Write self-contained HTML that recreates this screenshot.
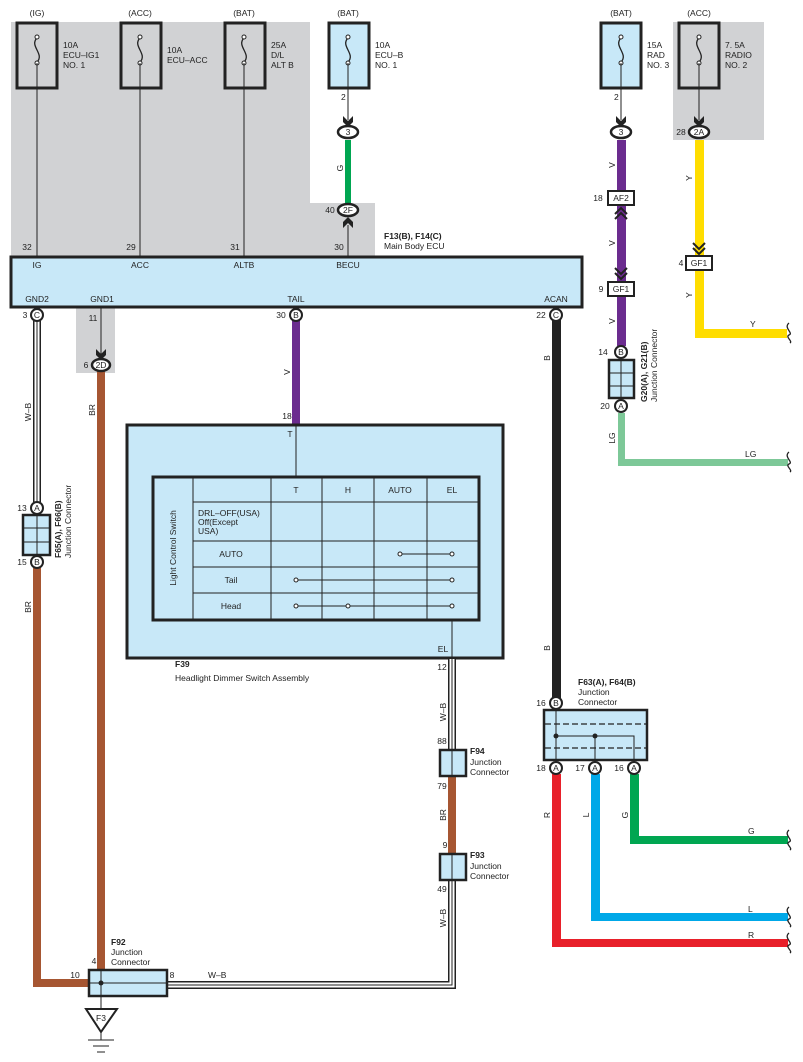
<!DOCTYPE html>
<html><head><meta charset="utf-8"><style>
body{margin:0;background:#fff}
svg{display:block;font-family:"Liberation Sans",sans-serif}
text{font-size:8.5px;fill:#222}
.b{font-weight:bold}
</style></head><body>
<svg width="803" height="1062" viewBox="0 0 803 1062" xmlns="http://www.w3.org/2000/svg">
<defs>
<g id="fuse"><path d="M0,-12 C-8,-4 8,4 0,12" fill="none" stroke="#222" stroke-width="1.3"/><circle cx="0" cy="-13" r="2" fill="#fff" stroke="#222"/><circle cx="0" cy="13" r="2" fill="#fff" stroke="#222"/></g>
<g id="adn"><path d="M-5,-6 L0,-1 L5,-6 L5,0 L0,5 L-5,0Z" fill="#222"/></g>
<g id="wave"><path d="M0,-10 C-6,-5 5,0 0,2 C-4,4 4,8 1,10" fill="none" stroke="#222" stroke-width="1.3"/></g>
</defs>
<!-- gray regions -->
<path d="M11,22 H310 V203 H375 V256 H11Z" fill="#d1d2d4"/>
<rect x="76" y="307" width="39" height="66" fill="#d1d2d4"/>
<rect x="673" y="22" width="91" height="118" fill="#d1d2d4"/>

<!-- top labels -->
<g text-anchor="middle"><text x="37" y="16">(IG)</text><text x="140" y="16">(ACC)</text><text x="244" y="16">(BAT)</text><text x="348" y="16">(BAT)</text><text x="621" y="16">(BAT)</text><text x="699" y="16">(ACC)</text></g>
<!-- fuse boxes -->
<g stroke="#222" stroke-width="3">
<rect x="17" y="23" width="40" height="65" fill="#d1d2d4"/><rect x="121" y="23" width="40" height="65" fill="#d1d2d4"/><rect x="225" y="23" width="40" height="65" fill="#d1d2d4"/><rect x="329" y="23" width="40" height="65" fill="#c8e8f8"/><rect x="601" y="23" width="40" height="65" fill="#c8e8f8"/><rect x="679" y="23" width="40" height="65" fill="#d1d2d4"/>
</g>
<use href="#fuse" x="37" y="50"/><use href="#fuse" x="140" y="50"/><use href="#fuse" x="244" y="50"/><use href="#fuse" x="348" y="50"/><use href="#fuse" x="621" y="50"/><use href="#fuse" x="699" y="50"/>
<text x="63" y="48">10A</text><text x="63" y="58">ECU–IG1</text><text x="63" y="68">NO. 1</text>
<text x="167" y="53">10A</text><text x="167" y="63">ECU–ACC</text>
<text x="271" y="48">25A</text><text x="271" y="58">D/L</text><text x="271" y="68">ALT B</text>
<text x="375" y="48">10A</text><text x="375" y="58">ECU–B</text><text x="375" y="68">NO. 1</text>
<text x="647" y="48">15A</text><text x="647" y="58">RAD</text><text x="647" y="68">NO. 3</text>
<text x="725" y="48">7. 5A</text><text x="725" y="58">RADIO</text><text x="725" y="68">NO. 2</text>
<!-- thin lines from fuses -->
<g stroke="#222" stroke-width="1"><line x1="37" y1="63" x2="37" y2="256"/><line x1="140" y1="63" x2="140" y2="256"/><line x1="244" y1="63" x2="244" y2="256"/><line x1="348" y1="63" x2="348" y2="120"/><line x1="348" y1="225" x2="348" y2="256"/><line x1="621" y1="63" x2="621" y2="120"/><line x1="699" y1="63" x2="699" y2="120"/><line x1="101" y1="307" x2="101" y2="355"/></g>
<!-- ECU-B green -->
<rect x="345" y="140" width="6" height="64" fill="#00a651"/>
<text transform="translate(343,168) rotate(-90)" text-anchor="middle">G</text>
<use href="#adn" x="348" y="122"/>
<ellipse cx="348" cy="132" rx="10" ry="6" fill="#fff" stroke="#222" stroke-width="2.5"/><text x="348" y="135" text-anchor="middle">3</text>
<ellipse cx="348" cy="210" rx="10" ry="6" fill="#fff" stroke="#222" stroke-width="2.5"/><text x="348" y="213" text-anchor="middle">2F</text>
<use href="#adn" x="348" y="222" transform="rotate(180 348 222)"/>
<text x="330" y="213" text-anchor="middle">40</text><text x="341" y="100">2</text>
<text x="384" y="239" class="b">F13(B), F14(C)</text><text x="384" y="249">Main Body ECU</text>
<!-- ECU -->
<rect x="11" y="257" width="571" height="50" fill="#c8e8f8" stroke="#222" stroke-width="3"/>
<g text-anchor="middle"><text x="27" y="250">32</text><text x="131" y="250">29</text><text x="235" y="250">31</text><text x="339" y="250">30</text>
<text x="37" y="268">IG</text><text x="140" y="268">ACC</text><text x="244" y="268">ALTB</text><text x="348" y="268">BECU</text>
<text x="37" y="302">GND2</text><text x="102" y="302">GND1</text><text x="296" y="302">TAIL</text><text x="556" y="302">ACAN</text></g>
<!-- right radio -->
<rect x="617" y="140" width="9" height="206" fill="#6b2c8f"/>
<use href="#adn" x="621" y="122"/><use href="#adn" x="699" y="122"/>
<ellipse cx="621" cy="132" rx="10" ry="6" fill="#fff" stroke="#222" stroke-width="2.5"/><text x="621" y="135" text-anchor="middle">3</text>
<text x="614" y="100">2</text>
<rect x="695" y="140" width="9" height="194" fill="#ffdd00"/><rect x="695" y="329" width="92" height="9" fill="#ffdd00"/>
<ellipse cx="699" cy="132" rx="10" ry="6" fill="#fff" stroke="#222" stroke-width="2.5"/><text x="699" y="135" text-anchor="middle">2A</text>
<text x="681" y="135" text-anchor="middle">28</text>
<g text-anchor="middle"><text transform="translate(615,165) rotate(-90)">V</text><text transform="translate(615,243) rotate(-90)">V</text><text transform="translate(615,321) rotate(-90)">V</text><text transform="translate(692,178) rotate(-90)">Y</text><text transform="translate(692,295) rotate(-90)">Y</text></g>
<text x="750" y="327">Y</text>
<rect x="608" y="191" width="26" height="14" fill="#fff" stroke="#222" stroke-width="2"/><text x="621" y="201" text-anchor="middle">AF2</text><text x="598" y="201" text-anchor="middle">18</text>
<path d="M615,214 L621,208 L627,214 M615,219 L621,213 L627,219" fill="none" stroke="#222" stroke-width="2"/>
<path d="M615,268 L621,274 L627,268 M615,273 L621,279 L627,273" fill="none" stroke="#222" stroke-width="2"/>
<rect x="608" y="282" width="26" height="14" fill="#fff" stroke="#222" stroke-width="2"/><text x="621" y="292" text-anchor="middle">GF1</text><text x="601" y="292" text-anchor="middle">9</text>
<path d="M693,243 L699,249 L705,243 M693,248 L699,254 L705,248" fill="none" stroke="#222" stroke-width="2"/>
<rect x="686" y="256" width="26" height="14" fill="#fff" stroke="#222" stroke-width="2"/><text x="699" y="266" text-anchor="middle">GF1</text><text x="681" y="266" text-anchor="middle">4</text>
<!-- G20 junction -->
<rect x="618" y="413" width="7" height="53" fill="#7dc898"/><rect x="618" y="459" width="170" height="7" fill="#7dc898"/>
<text transform="translate(615,438) rotate(-90)" text-anchor="middle">LG</text><text x="745" y="457">LG</text>
<rect x="609" y="360" width="25" height="38" fill="#c8e8f8" stroke="#222" stroke-width="2.5"/>
<g stroke="#222" stroke-width="1"><line x1="621" y1="360" x2="621" y2="398"/><line x1="609" y1="373" x2="634" y2="373"/><line x1="609" y1="386" x2="634" y2="386"/></g>
<circle cx="621" cy="352" r="6" fill="#fff" stroke="#222" stroke-width="2"/><text x="621" y="355" text-anchor="middle">B</text>
<circle cx="621" cy="406" r="6" fill="#fff" stroke="#222" stroke-width="2"/><text x="621" y="409" text-anchor="middle">A</text>
<text x="603" y="355" text-anchor="middle">14</text><text x="605" y="409" text-anchor="middle">20</text>
<text transform="translate(647,402) rotate(-90)" class="b">G20(A), G21(B)</text><text transform="translate(657,402) rotate(-90)">Junction Connector</text>
<g transform="translate(789,333)"><use href="#wave"/></g><g transform="translate(789,462)"><use href="#wave"/></g>
<!-- ACAN -->
<rect x="552" y="320" width="9" height="378" fill="#222"/>
<circle cx="556" cy="315" r="6" fill="#fff" stroke="#222" stroke-width="2"/><text x="556" y="318" text-anchor="middle">C</text><text x="541" y="318" text-anchor="middle">22</text>
<text transform="translate(550,358) rotate(-90)" text-anchor="middle">B</text><text transform="translate(550,648) rotate(-90)" text-anchor="middle">B</text>
<text x="578" y="685" class="b">F63(A), F64(B)</text><text x="578" y="695">Junction</text><text x="578" y="705">Connector</text>
<rect x="552" y="774" width="9" height="173" fill="#e8202a"/><rect x="552" y="939" width="236" height="8" fill="#e8202a"/>
<rect x="591" y="774" width="9" height="147" fill="#00a8e8"/><rect x="591" y="913" width="197" height="8" fill="#00a8e8"/>
<rect x="630" y="774" width="9" height="70" fill="#00a651"/><rect x="630" y="836" width="158" height="8" fill="#00a651"/>
<rect x="544" y="710" width="103" height="50" fill="#c8e8f8" stroke="#222" stroke-width="2.5"/>
<g stroke="#222" stroke-width="1.3" stroke-dasharray="6,3"><line x1="545" y1="724" x2="646" y2="724"/><line x1="545" y1="748" x2="646" y2="748"/></g>
<g stroke="#222" stroke-width="1" fill="none"><line x1="556" y1="703" x2="556" y2="768"/><path d="M556,736 H634 V768"/><line x1="595" y1="736" x2="595" y2="768"/></g>
<circle cx="556" cy="736" r="2.5" fill="#222"/><circle cx="595" cy="736" r="2.5" fill="#222"/>
<circle cx="556" cy="703" r="6" fill="#fff" stroke="#222" stroke-width="2"/><text x="556" y="706" text-anchor="middle">B</text><text x="541" y="706" text-anchor="middle">16</text>
<g text-anchor="middle"><circle cx="556" cy="768" r="6" fill="#fff" stroke="#222" stroke-width="2"/><text x="556" y="771">A</text>
<circle cx="595" cy="768" r="6" fill="#fff" stroke="#222" stroke-width="2"/><text x="595" y="771">A</text>
<circle cx="634" cy="768" r="6" fill="#fff" stroke="#222" stroke-width="2"/><text x="634" y="771">A</text>
<text x="541" y="771">18</text><text x="580" y="771">17</text><text x="619" y="771">16</text>
<text transform="translate(550,815) rotate(-90)">R</text><text transform="translate(589,815) rotate(-90)">L</text><text transform="translate(628,815) rotate(-90)">G</text></g>
<text x="748" y="834">G</text><text x="748" y="912">L</text><text x="748" y="938">R</text>
<g transform="translate(789,840)"><use href="#wave"/></g><g transform="translate(789,917)"><use href="#wave"/></g><g transform="translate(789,943)"><use href="#wave"/></g>
<!-- GND2 W-B -->
<path d="M37,321 V502" stroke="#222" stroke-width="8" fill="none"/><path d="M37,321 V502" stroke="#fff" stroke-width="5" fill="none"/><path d="M37,321 V502" stroke="#222" stroke-width="1" fill="none"/>
<circle cx="37" cy="315" r="6" fill="#fff" stroke="#222" stroke-width="2"/><text x="37" y="318" text-anchor="middle">C</text><text x="25" y="318" text-anchor="middle">3</text>
<text transform="translate(31,412) rotate(-90)" text-anchor="middle">W–B</text>
<rect x="33" y="568" width="8" height="419" fill="#a65632"/><rect x="33" y="979" width="58" height="8" fill="#a65632"/>
<text transform="translate(31,607) rotate(-90)" text-anchor="middle">BR</text>
<rect x="23" y="515" width="27" height="40" fill="#c8e8f8" stroke="#222" stroke-width="2.5"/>
<g stroke="#222" stroke-width="1"><line x1="37" y1="515" x2="37" y2="555"/><line x1="23" y1="528" x2="50" y2="528"/><line x1="23" y1="542" x2="50" y2="542"/></g>
<circle cx="37" cy="508" r="6" fill="#fff" stroke="#222" stroke-width="2"/><text x="37" y="511" text-anchor="middle">A</text><text x="22" y="511" text-anchor="middle">13</text>
<circle cx="37" cy="562" r="6" fill="#fff" stroke="#222" stroke-width="2"/><text x="37" y="565" text-anchor="middle">B</text><text x="22" y="565" text-anchor="middle">15</text>
<text transform="translate(61,558) rotate(-90)" class="b">F65(A), F66(B)</text><text transform="translate(71,558) rotate(-90)">Junction Connector</text>
<!-- GND1 -->
<use href="#adn" x="101" y="355"/>
<text x="93" y="321" text-anchor="middle">11</text>
<rect x="97" y="371" width="8" height="600" fill="#a65632"/>
<ellipse cx="101" cy="365" rx="9" ry="6" fill="#fff" stroke="#222" stroke-width="2.5"/><text x="101" y="368" text-anchor="middle">2D</text><text x="86" y="368" text-anchor="middle">6</text>
<text transform="translate(95,410) rotate(-90)" text-anchor="middle">BR</text>
<!-- TAIL -->
<rect x="292" y="320" width="8" height="104" fill="#6b2c8f"/>
<circle cx="296" cy="315" r="6" fill="#fff" stroke="#222" stroke-width="2"/><text x="296" y="318" text-anchor="middle">B</text><text x="281" y="318" text-anchor="middle">30</text>
<text transform="translate(290,372) rotate(-90)" text-anchor="middle">V</text><text x="287" y="419" text-anchor="middle">18</text>
<!-- F39 -->
<rect x="127" y="425" width="376" height="233" fill="#c8e8f8" stroke="#222" stroke-width="3"/>
<line x1="296" y1="425" x2="296" y2="477" stroke="#222" stroke-width="1"/>
<text x="290" y="437" text-anchor="middle">T</text>
<rect x="153" y="477" width="326" height="143" fill="#c8e8f8" stroke="#222" stroke-width="3"/>
<g stroke="#222" stroke-width="1"><line x1="193" y1="477" x2="193" y2="620"/><line x1="271" y1="477" x2="271" y2="620"/><line x1="322" y1="477" x2="322" y2="620"/><line x1="374" y1="477" x2="374" y2="620"/><line x1="427" y1="477" x2="427" y2="620"/>
<line x1="193" y1="502" x2="479" y2="502"/><line x1="193" y1="541" x2="479" y2="541"/><line x1="193" y1="567" x2="479" y2="567"/><line x1="193" y1="593" x2="479" y2="593"/></g>
<text transform="translate(176,548) rotate(-90)" text-anchor="middle">Light Control Switch</text>
<g text-anchor="middle"><text x="296" y="493">T</text><text x="348" y="493">H</text><text x="400" y="493">AUTO</text><text x="452" y="493">EL</text>
<text x="231" y="557">AUTO</text><text x="231" y="583">Tail</text><text x="231" y="609">Head</text></g>
<text x="198" y="516">DRL–OFF(USA)</text><text x="198" y="525">Off(Except</text><text x="198" y="534">USA)</text>
<g stroke="#222" stroke-width="1" fill="#fff"><line x1="400" y1="554" x2="452" y2="554"/><line x1="296" y1="580" x2="452" y2="580"/><line x1="296" y1="606" x2="452" y2="606"/>
<circle cx="400" cy="554" r="2"/><circle cx="452" cy="554" r="2"/><circle cx="296" cy="580" r="2"/><circle cx="452" cy="580" r="2"/><circle cx="296" cy="606" r="2"/><circle cx="348" cy="606" r="2"/><circle cx="452" cy="606" r="2"/></g>
<line x1="452" y1="620" x2="452" y2="660" stroke="#222" stroke-width="1"/>
<text x="443" y="652" text-anchor="middle">EL</text><text x="442" y="670" text-anchor="middle">12</text>
<text x="175" y="667" class="b">F39</text><text x="175" y="681">Headlight Dimmer Switch Assembly</text>
<!-- W-B runs -->
<g fill="none"><path d="M452,659 V750 M452,880 V985 H167" stroke="#222" stroke-width="8"/><path d="M452,659 V750 M452,880 V985 H167" stroke="#fff" stroke-width="5"/><path d="M452,659 V750 M452,880 V985 H167" stroke="#222" stroke-width="1"/></g>
<rect x="448" y="775" width="8" height="80" fill="#a65632"/>
<text transform="translate(446,712) rotate(-90)" text-anchor="middle">W–B</text><text transform="translate(446,815) rotate(-90)" text-anchor="middle">BR</text><text transform="translate(446,918) rotate(-90)" text-anchor="middle">W–B</text>
<text x="208" y="978">W–B</text>
<rect x="440" y="750" width="26" height="26" fill="#c8e8f8" stroke="#222" stroke-width="2.5"/><line x1="452" y1="750" x2="452" y2="776" stroke="#222"/>
<rect x="440" y="854" width="26" height="26" fill="#c8e8f8" stroke="#222" stroke-width="2.5"/><line x1="452" y1="854" x2="452" y2="880" stroke="#222"/>
<g text-anchor="middle"><text x="442" y="744">88</text><text x="442" y="789">79</text><text x="445" y="848">9</text><text x="442" y="892">49</text></g>
<text x="470" y="754" class="b">F94</text><text x="470" y="765">Junction</text><text x="470" y="775">Connector</text>
<text x="470" y="858" class="b">F93</text><text x="470" y="869">Junction</text><text x="470" y="879">Connector</text>
<!-- F92 -->
<rect x="89" y="970" width="78" height="26" fill="#c8e8f8" stroke="#222" stroke-width="2.5"/>
<line x1="89" y1="983" x2="167" y2="983" stroke="#222"/><line x1="101" y1="970" x2="101" y2="1008" stroke="#222"/>
<circle cx="101" cy="983" r="2.5" fill="#222"/>
<text x="111" y="945" class="b">F92</text><text x="111" y="955">Junction</text><text x="111" y="965">Connector</text>
<text x="75" y="978" text-anchor="middle">10</text><text x="94" y="964" text-anchor="middle">4</text><text x="172" y="978" text-anchor="middle">8</text>
<path d="M86,1009 H117 L101,1032Z" fill="#fff" stroke="#222" stroke-width="2"/><text x="101" y="1021" text-anchor="middle">F3</text>
<g stroke="#222" stroke-width="1"><line x1="101" y1="1032" x2="101" y2="1040"/><line x1="88" y1="1040" x2="114" y2="1040"/><line x1="93" y1="1046" x2="109" y2="1046"/><line x1="97" y1="1052" x2="105" y2="1052"/></g>
</svg>
</body></html>
